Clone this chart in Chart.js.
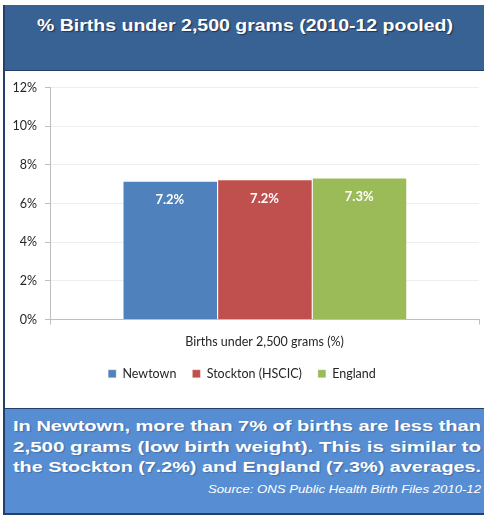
<!DOCTYPE html>
<html>
<head>
<meta charset="utf-8">
<script src="https://cdn.jsdelivr.net/npm/chart.js@4/dist/chart.umd.min.js"></script>
<style>
  html, body { margin: 0; padding: 0; background: #ffffff; width: 484px; height: 516px; overflow: hidden; }
  #frame { position: absolute; left: 3px; top: 5px; width: 479px; height: 508px; border: 1px solid #24406A; border-width: 1px 0 1px 2px; }
  #title { position: absolute; left: 3px; top: 5px; width: 481px; height: 66px; background: #386194; border-bottom: 1px solid #24406A;
           border-left: 2px solid #24406A; box-sizing: border-box; }
  #chartbox { position: absolute; left: 5px; top: 72px; width: 479px; height: 336px; }
  #bottom { position: absolute; left: 3px; top: 408px; width: 481px; height: 106px; background: #568DD3; border-top: 1px solid #24406A;
            border-left: 2px solid #24406A; border-bottom: 1px solid #24406A; box-sizing: border-box; }
  .txt { position: absolute; white-space: nowrap; color: #ffffff; font-family: "Liberation Sans", Arial, sans-serif; font-weight: bold;
         transform-origin: 0 0; line-height: 1; }
  #t0 { font-size: 16.5px; text-shadow: 1px 1px 1px rgba(0,0,0,0.45); }
  .bl { font-size: 15px; text-shadow: 1px 1px 1px rgba(0,0,0,0.2); }
  #src { font-size: 11.5px; font-weight: normal; font-style: italic; }
</style>
</head>
<body>
<div id="frame"></div>
<div id="title"></div>
<div id="chartbox"><canvas id="c"></canvas></div>
<div id="bottom"></div>
<div class="txt" id="t0" data-l="37" data-w="416" data-t="17">% Births under 2,500 grams (2010-12 pooled)</div>
<div class="txt bl" data-l="13" data-w="468" data-t="418">In Newtown, more than 7% of births are less than</div>
<div class="txt bl" data-l="13" data-w="468" data-t="438.5">2,500 grams (low birth weight). This is similar to</div>
<div class="txt bl" data-l="13" data-w="468" data-t="459">the Stockton (7.2%) and England (7.3%) averages.</div>
<div class="txt" id="src" data-l="208" data-w="273" data-t="484">Source: ONS Public Health Birth Files 2010-12</div>
<script>
const categories = ["Births under 2,500 grams (%)"];
const seriesNames = ["Newtown", "Stockton (HSCIC)", "England"];
const newtownValues = [7.18];
const stocktonValues = [7.25];
const englandValues = [7.35];
const dataLabels = [["7.2%"], ["7.2%"], ["7.3%"]];
const yTickMax = 12;
const yTickStep = 2;

const seriesColors = ["#4F81BD", "#C0504D", "#9BBB59"];
const seriesValues = [newtownValues, stocktonValues, englandValues];

// stretch text blocks horizontally to fit the reference widths
document.querySelectorAll(".txt").forEach(el => {
  const w = el.getBoundingClientRect().width;
  const target = parseFloat(el.dataset.w);
  el.style.left = el.dataset.l + "px";
  el.style.top = el.dataset.t + "px";
  el.style.transform = "scaleX(" + (target / w) + ")";
});

const barLabelPlugin = {
  id: "barLabels",
  afterDatasetsDraw(chart) {
    const ctx = chart.ctx;
    ctx.save();
    ctx.fillStyle = "#ffffff";
    ctx.font = "bold 13px Lato, 'Open Sans', sans-serif";
    ctx.textAlign = "center";
    ctx.textBaseline = "middle";
    chart.data.datasets.forEach((ds, i) => {
      chart.getDatasetMeta(i).data.forEach((el, j) => {
        ctx.fillText(dataLabels[i][j], el.x, el.y + 19);
      });
    });
    ctx.restore();
  }
};

new Chart(document.getElementById("c"), {
  type: "bar",
  data: {
    labels: categories,
    datasets: seriesNames.map((n, i) => ({
      label: n,
      data: seriesValues[i],
      backgroundColor: seriesColors[i],
      borderColor: "rgba(255,255,255,0.6)",
      borderWidth: { left: 1, right: 0, top: 1, bottom: 0 },
      categoryPercentage: 0.662,
      barPercentage: 1.0
    }))
  },
  options: {
    responsive: true,
    maintainAspectRatio: false,
    animation: false,
    layout: { padding: { left: 0, right: 5, top: 14, bottom: 18 } },
    plugins: {
      legend: {
        position: "bottom",
        labels: {
          boxWidth: 8, boxHeight: 8, padding: 16,
          color: "#262626",
          font: { family: "Lato, 'Open Sans', sans-serif", size: 12.5 }
        }
      },
      tooltip: { enabled: false }
    },
    scales: {
      x: {
        grid: { display: true, drawOnChartArea: false, tickLength: 5, color: "#BFBFBF" },
        border: { color: "#BFBFBF" },
        ticks: { color: "#262626", padding: 10, font: { family: "Lato, 'Open Sans', sans-serif", size: 12.5 } },
        afterFit(s) { s.height = 32; }
      },
      y: {
        min: 0, max: yTickMax,
        grid: { color: "#EEEEEE", tickLength: 5, tickColor: "#BFBFBF" },
        border: { color: "#BFBFBF" },
        ticks: {
          stepSize: yTickStep, padding: 8, color: "#262626",
          font: { family: "Lato, 'Open Sans', sans-serif", size: 12.5 },
          callback: v => v + "%"
        },
        afterFit(s) { s.width = 45; }
      }
    }
  },
  plugins: [barLabelPlugin]
});
</script>
</body>
</html>
